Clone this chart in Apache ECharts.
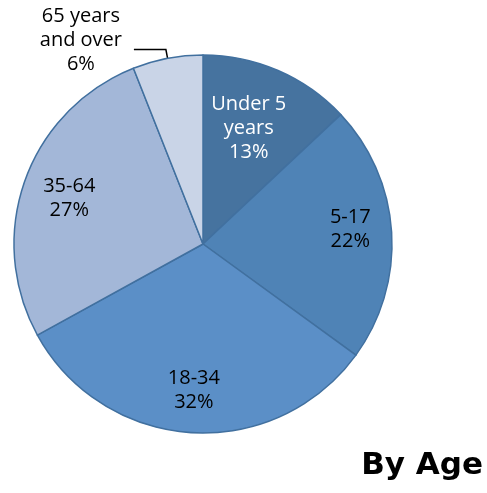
<!DOCTYPE html>
<html><head><meta charset="utf-8">
<script src="https://cdn.jsdelivr.net/npm/echarts@6/dist/echarts.min.js"></script>
<style>html,body{margin:0;padding:0;background:#fff}#c{width:487px;height:493px}</style>
</head><body><div id="c"></div>
<script>
const categories = ['Under 5\nyears', '5-17', '18-34', '35-64', '65 years\nand over'];
const values = [13, 22, 32, 27, 6];
const colors = ['#46739f', '#4f83b6', '#5b8fc7', '#a3b7d8', '#c9d4e7'];
const labelColors = ['#ffffff', '#000000', '#000000', '#000000', '#000000'];
const labelOffsets = [[7, -26], [50, -9], [-3, 49], [-42, -13], null];

const chart = echarts.init(document.getElementById('c'), null, {renderer: 'canvas'});
const data = categories.map((c, i) => {
  const item = {name: c, value: values[i], itemStyle: {color: colors[i]},
    label: {color: labelColors[i]}};
  if (i === 4) {
    item.label = {
      position: 'outside', color: '#000', width: 92,
      padding: [0, 2, 18, 0],
      formatter: p => p.name.split('\n').map(s => '{a|' + s + '}').join('\n') + '\n{a|' + p.value + '%}',
      rich: {a: {align: 'center', fontSize: 20, lineHeight: 24, fontFamily: 'Open Sans', color: '#000'}}
    };
    item.labelLine = {show: true, length: 9, length2: 32, lineStyle: {color: '#000', width: 1.5}};
  }
  return item;
});
chart.setOption({
  backgroundColor: '#fff',
  animation: false,
  title: {text: 'By Age', right: 4, top: 450, padding: 0,
    textStyle: {fontFamily: 'DejaVu Sans', fontWeight: 'bold', fontSize: 31, color: '#000'}},
  series: [{
    type: 'pie', center: [203, 244], radius: 189, startAngle: 90, clockwise: true,
    avoidLabelOverlap: false,
    itemStyle: {borderColor: '#41709f', borderWidth: 1.5},
    label: {show: true, position: 'inside', fontFamily: 'Open Sans', fontSize: 20, lineHeight: 24,
      formatter: p => p.name + '\n' + p.value + '%'},
    labelLine: {show: false},
    emphasis: {disabled: true},
    labelLayout: p => {
      const o = labelOffsets[p.dataIndex];
      return o ? {dx: o[0], dy: o[1]} : {};
    },
    data: data
  }]
});
</script></body></html>
